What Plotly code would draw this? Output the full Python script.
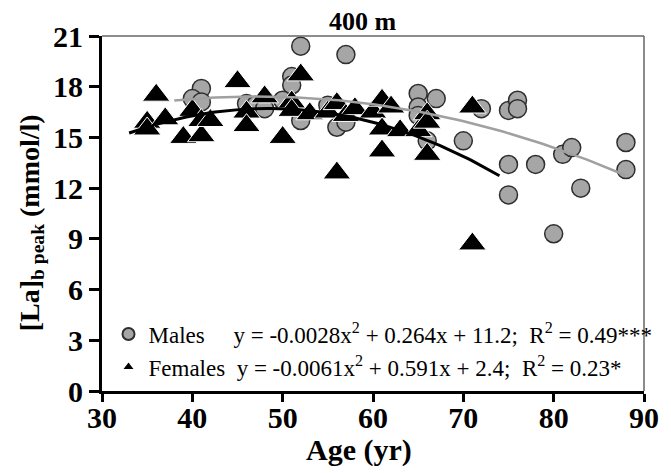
import numpy as np
import plotly.graph_objects as go

# ---- data ----
male_age = [52, 57, 41, 40, 41, 51, 51, 50, 46, 47, 48, 52, 55, 56, 57,
            65, 65, 65, 67, 66, 70, 72, 75, 76, 76, 75, 78, 75, 81, 82,
            83, 88, 88, 80]
male_la = [20.4, 19.9, 17.9, 17.3, 17.1, 18.6, 18.1, 17.2, 17.0, 16.9, 16.7, 16.0, 16.9, 15.6, 15.9,
           17.6, 16.8, 16.3, 17.3, 14.8, 14.8, 16.7, 16.6, 17.2, 16.7, 13.4, 13.4, 11.6, 14.0, 14.4,
           12.0, 14.7, 13.1, 9.3]

female_age = [35, 35, 36, 37, 39, 40, 41, 41, 42, 45, 46, 46, 48, 50, 51, 51, 52, 53,
              55, 56, 56, 57, 58, 60, 61, 61, 61, 62, 63, 65, 66, 66, 66, 71, 71]
female_la = [15.9, 15.5, 17.5, 16.1, 15.0, 16.6, 16.0, 15.1, 16.0, 18.3, 16.5, 15.7, 17.4, 15.0, 17.1, 16.6, 18.7, 16.4,
             16.5, 17.0, 12.9, 16.3, 16.7, 16.5, 17.2, 15.5, 14.2, 16.8, 15.4, 15.4, 16.4, 15.9, 14.0, 16.8, 8.7]

# quadratic fits shown in the legend: a*x^2 + b*x + c
male_fit = [-0.0028, 0.264, 11.2]
male_fit_range = [38, 88]
female_fit = [-0.0061, 0.591, 2.4]
female_fit_range = [33, 74]

x_ticks = [30, 40, 50, 60, 70, 80, 90]
y_ticks = [0, 3, 6, 9, 12, 15, 18, 21]

NB = "\u00a0"
male_label = ("Males" + NB * 5 + "y = -0.0028x<sup>2</sup> + 0.264x + 11.2;" + NB * 2 +
              "R<sup>2</sup> = 0.49***")
female_label = ("Females" + NB * 2 + "y = -0.0061x<sup>2</sup> + 0.591x + 2.4;" + NB * 2 +
                "R<sup>2</sup> = 0.23*")

SERIF = "Liberation Serif, Times New Roman, serif"

fig = go.Figure()

fig.add_trace(go.Scatter(
    x=male_age, y=male_la, mode="markers", name=male_label,
    marker=dict(symbol="circle", size=18, color="#a6a6a6",
                line=dict(color="#2e2e2e", width=1.5)),
))
fig.add_trace(go.Scatter(
    x=female_age, y=female_la, mode="markers", name=female_label,
    marker=dict(symbol="triangle-up", size=24, color="black",
                line=dict(color="white", width=1)),
))

fx = np.linspace(female_fit_range[0], female_fit_range[1], 100)
fig.add_trace(go.Scatter(x=fx, y=np.polyval(female_fit, fx), mode="lines",
                         line=dict(color="black", width=3), showlegend=False,
                         hoverinfo="skip"))
mx = np.linspace(male_fit_range[0], male_fit_range[1], 100)
fig.add_trace(go.Scatter(x=mx, y=np.polyval(male_fit, mx), mode="lines",
                         line=dict(color="#a0a0a0", width=2.5), showlegend=False,
                         hoverinfo="skip"))

axis_common = dict(
    showgrid=False, zeroline=False, showline=True, linecolor="black", linewidth=3,
    ticks="outside", tickcolor="black", tickwidth=2.5,
    tickfont=dict(family=SERIF, size=30, color="black", weight="bold"),
)

fig.update_xaxes(range=[30, 90], tickvals=x_ticks, ticklen=8, ticklabelstandoff=-10,
                 **axis_common)
fig.update_yaxes(range=[0, 21], tickvals=y_ticks, ticklen=10, **axis_common)

fig.update_layout(
    width=671, height=473,
    margin=dict(l=102, r=19, t=36, b=82),
    paper_bgcolor="white", plot_bgcolor="white",
    showlegend=True,
    legend=dict(x=0.012, y=0.221, xanchor="left", yanchor="top",
                bgcolor="rgba(0,0,0,0)", itemsizing="constant", itemwidth=30,
                font=dict(family=SERIF, size=23, color="black"),
                tracegroupgap=0),
    shapes=[
        dict(type="line", xref="paper", yref="paper", x0=0, x1=1, y0=1, y1=1,
             line=dict(color="#666666", width=1.5)),
        dict(type="line", xref="paper", yref="paper", x0=1, x1=1, y0=0, y1=1,
             line=dict(color="#666666", width=1.5)),
    ],
    annotations=[
        dict(text="<b>400 m</b>", xref="paper", yref="paper", x=0.482, y=1.042,
             xanchor="center", yanchor="middle", showarrow=False,
             font=dict(family=SERIF, size=26, color="black")),
        dict(text="<b>Age (yr)</b>", xref="paper", yref="paper", x=0.4745, y=-0.165,
             xanchor="center", yanchor="middle", showarrow=False,
             font=dict(family=SERIF, size=30, color="black")),
        dict(text="<b>[La]<sub>b peak</sub> (mmol/l)</b>", xref="paper", yref="paper",
             x=-0.131, y=0.475, xanchor="center", yanchor="middle", textangle=-90,
             showarrow=False, font=dict(family=SERIF, size=28, color="black")),
    ],
)

fig.write_html("out.html")
